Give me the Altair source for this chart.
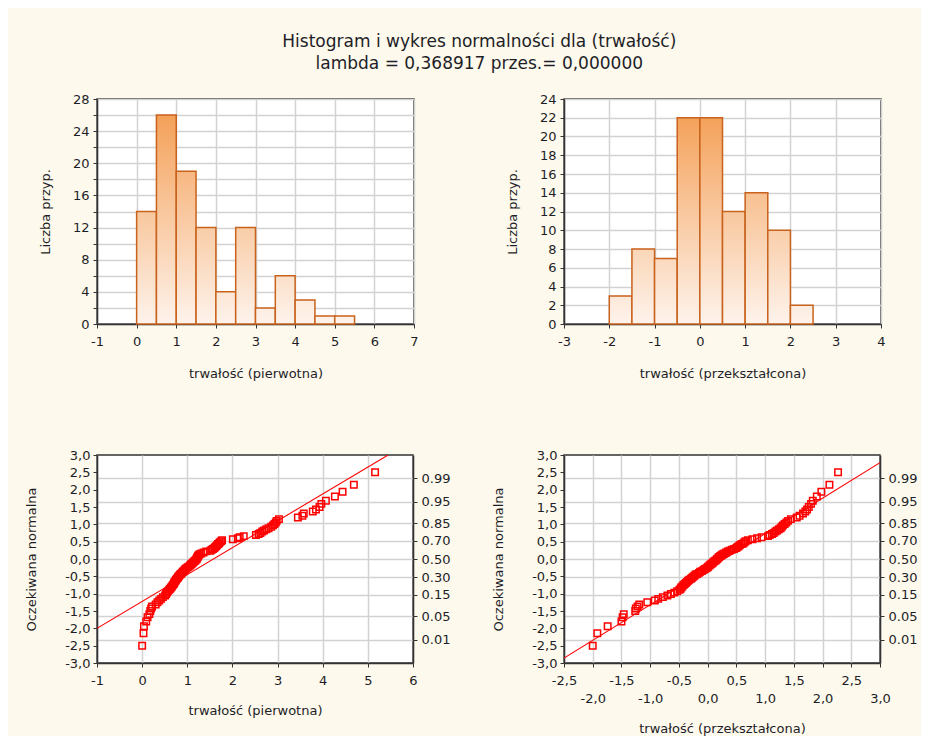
import altair as alt
import pandas as pd

# ---------------- data ----------------
bin_width = 0.5
hist1_bin_lo = [0.0, 0.5, 1.0, 1.5, 2.0, 2.5, 3.0, 3.5, 4.0, 4.5, 5.0]
hist1_counts = [14, 26, 19, 12, 4, 12, 2, 6, 3, 1, 1]
hist2_bin_lo = [-2.0, -1.5, -1.0, -0.5, 0.0, 0.5, 1.0, 1.5, 2.0]
hist2_counts = [3, 8, 7, 22, 22, 12, 14, 10, 2]

# expected normal values (y of both probability plots), rank 1..100
expected_normal = [
    -2.50, -2.14, -1.94, -1.80, -1.68, -1.59, -1.50, -1.43, -1.37, -1.31,
    -1.25, -1.20, -1.15, -1.10, -1.05, -1.01, -0.97, -0.93, -0.89, -0.86,
    -0.82, -0.79, -0.75, -0.72, -0.69, -0.66, -0.63, -0.60, -0.57, -0.54,
    -0.51, -0.48, -0.45, -0.43, -0.40, -0.37, -0.35, -0.32, -0.29, -0.27,
    -0.24, -0.22, -0.19, -0.16, -0.14, -0.11, -0.09, -0.06, -0.04, -0.01,
    0.01, 0.04, 0.06, 0.09, 0.11, 0.14, 0.16, 0.19, 0.22, 0.24,
    0.27, 0.29, 0.32, 0.35, 0.37, 0.40, 0.43, 0.45, 0.48, 0.51,
    0.54, 0.57, 0.60, 0.63, 0.66, 0.69, 0.72, 0.75, 0.79, 0.82,
    0.86, 0.89, 0.93, 0.97, 1.01, 1.05, 1.10, 1.15, 1.20, 1.25,
    1.31, 1.37, 1.43, 1.50, 1.59, 1.68, 1.80, 1.94, 2.14, 2.50,
]

# sorted original values (trwałość, pierwotna)
qq1_x = [
    0.00, 0.03, 0.04, 0.09, 0.12, 0.16, 0.18, 0.20, 0.22, 0.30,
    0.34, 0.38, 0.42, 0.46, 0.51, 0.53, 0.55, 0.57, 0.60, 0.62,
    0.64, 0.66, 0.68, 0.70, 0.71, 0.72, 0.74, 0.75, 0.77, 0.79,
    0.80, 0.82, 0.84, 0.86, 0.88, 0.90, 0.92, 0.94, 0.96, 0.98,
    1.01, 1.03, 1.06, 1.08, 1.10, 1.12, 1.14, 1.16, 1.18, 1.20,
    1.21, 1.22, 1.23, 1.24, 1.25, 1.27, 1.31, 1.36, 1.42, 1.51,
    1.54, 1.57, 1.60, 1.62, 1.64, 1.66, 1.68, 1.70, 1.72, 1.75,
    1.77, 2.01, 2.12, 2.16, 2.25, 2.52, 2.58, 2.62, 2.66, 2.70,
    2.75, 2.80, 2.86, 2.90, 2.93, 2.96, 2.98, 3.03, 3.45, 3.55,
    3.58, 3.78, 3.85, 3.93, 3.97, 4.07, 4.27, 4.44, 4.69, 5.16,
]

# sorted transformed values (trwałość, przekształcona)
qq2_x = [
    -2.00, -1.92, -1.74, -1.50, -1.48, -1.46, -1.26, -1.25, -1.22, -1.19,
    -1.05, -0.92, -0.86, -0.78, -0.70, -0.64, -0.58, -0.53, -0.49, -0.47,
    -0.46, -0.44, -0.42, -0.40, -0.38, -0.36, -0.34, -0.32, -0.29, -0.27,
    -0.25, -0.23, -0.21, -0.18, -0.15, -0.13, -0.10, -0.07, -0.05, -0.02,
    0.00, 0.01, 0.03, 0.05, 0.07, 0.09, 0.10, 0.12, 0.14, 0.16,
    0.17, 0.19, 0.20, 0.22, 0.24, 0.26, 0.29, 0.32, 0.35, 0.38,
    0.42, 0.46, 0.50, 0.52, 0.54, 0.56, 0.59, 0.62, 0.64, 0.66,
    0.70, 0.78, 0.86, 0.94, 1.05, 1.08, 1.12, 1.15, 1.18, 1.21,
    1.24, 1.27, 1.29, 1.31, 1.34, 1.37, 1.40, 1.45, 1.55, 1.60,
    1.66, 1.70, 1.73, 1.76, 1.80, 1.83, 1.90, 1.98, 2.12, 2.27,
]

# reference (fitted) lines, end points
qq1_fit_x = [-1.0, 5.45]
qq1_fit_y = [-2.0, 3.0]
qq2_fit_x = [-2.5, 3.0]
qq2_fit_y = [-2.86, 2.78]

# right-hand probability axis
prob_labels = ["0.01", "0.05", "0.15", "0.30", "0.50", "0.70", "0.85", "0.95", "0.99"]
prob_positions = [-2.326, -1.645, -1.036, -0.524, 0.0, 0.524, 1.036, 1.645, 2.326]

# axis tick values
hist1_xticks = [-1, 0, 1, 2, 3, 4, 5, 6, 7]
hist1_yticks = list(range(0, 29, 2))
hist2_xticks = [-3, -2, -1, 0, 1, 2, 3, 4]
hist2_yticks = list(range(0, 25, 2))
qq1_xticks = [-1, 0, 1, 2, 3, 4, 5, 6]
qq2_xticks = [-2.5, -2.0, -1.5, -1.0, -0.5, 0.0, 0.5, 1.0, 1.5, 2.0, 2.5, 3.0]
qq_yticks = [-3.0, -2.5, -2.0, -1.5, -1.0, -0.5, 0.0, 0.5, 1.0, 1.5, 2.0, 2.5, 3.0]

title_lines = ["Histogram i wykres normalności dla (trwałość)",
               "lambda = 0,368917 przes.= 0,000000"]

# ---------------- styling ----------------
FONT = "DejaVu Sans"
TXT = "#1e1e28"
GRID = "#d2d2d2"
BORDER = "#333333"
BG = "#fdf9ec"
RED = "#ff0000"
BAR_EDGE = "#c8621c"
BAR_LO = (254, 243, 236)
BAR_HI = (243, 155, 78)

INT_EXPR = "(datum.value < 0 ? '-' : '') + format(abs(datum.value), 'd')"
DEC_EXPR = "replace((datum.value < 0 ? '-' : '') + format(abs(datum.value), '.1f'), '.', ',')"


def hexcol(c):
    return "#%02x%02x%02x" % tuple(int(round(v)) for v in c)


def lerp(f):
    return hexcol([BAR_LO[k] + (BAR_HI[k] - BAR_LO[k]) * f for k in range(3)])


def prob_expr():
    parts = []
    for i in range(len(prob_positions) - 1):
        mid = (prob_positions[i] + prob_positions[i + 1]) / 2
        parts.append("datum.value < %.4f ? '%s' : " % (mid, prob_labels[i]))
    return "".join(parts) + "'%s'" % prob_labels[-1]


def hist_panel(lo, counts, xdom, xticks, ymax, yticks, ylabel_expr, xtitle):
    df = pd.DataFrame({"lo": lo, "hi": [v + bin_width for v in lo], "n": counts,
                       "base": [0] * len(lo)})
    xs = alt.Scale(domain=xdom, nice=False, zero=False)
    ys = alt.Scale(domain=[0, ymax], nice=False)
    xa = alt.Axis(values=xticks, labelExpr=INT_EXPR, grid=True, title=xtitle,
                  labelPadding=7, titlePadding=19)
    ya = alt.Axis(values=yticks, labelExpr=ylabel_expr, grid=True,
                  title="Liczba przyp.", labelPadding=4, titlePadding=20)
    layers = []
    for i in range(len(df)):
        grad = {
            "gradient": "linear", "x1": 0, "y1": 1, "x2": 0, "y2": 0,
            "stops": [{"offset": 0, "color": hexcol(BAR_LO)},
                      {"offset": 1, "color": lerp(counts[i] / ymax)}],
        }
        layers.append(
            alt.Chart(df.iloc[[i]]).mark_rect(fill=grad, stroke=BAR_EDGE, strokeWidth=1.5).encode(
                x=alt.X("lo:Q", scale=xs, axis=xa),
                x2="hi:Q",
                y=alt.Y("n:Q", scale=ys, axis=ya),
                y2="base:Q",
            )
        )
    return alt.layer(*layers).properties(width=317, height=225)


def qq_panel(xs_vals, xdom, xticks, xlabel_expr, fit_x, fit_y, xtitle, line_h, tpad):
    pts = pd.DataFrame({"x": xs_vals, "z": expected_normal})
    fit = pd.DataFrame({"x": fit_x, "z": fit_y})
    xs = alt.Scale(domain=xdom, nice=False, zero=False)
    ys = alt.Scale(domain=[-3, 3], nice=False, zero=False)
    xa = alt.Axis(values=xticks, labelExpr=xlabel_expr, grid=True, title=xtitle,
                  labelPadding=7, titlePadding=tpad, labelLineHeight=line_h)
    line = alt.Chart(fit).mark_line(color=RED, strokeWidth=1.1, clip=True).encode(
        x=alt.X("x:Q", scale=xs, axis=xa),
        y=alt.Y("z:Q", scale=ys, axis=alt.Axis(orient="right", values=prob_positions,
                                                labelExpr=prob_expr(), grid=True, title=None,
                                                labelPadding=4)),
    )
    points = alt.Chart(pts).mark_point(shape="square", filled=False, color=RED, size=42,
                                       strokeWidth=1.5, opacity=1).encode(
        x=alt.X("x:Q", scale=xs, axis=xa),
        y=alt.Y("z:Q", scale=ys, axis=alt.Axis(orient="left", values=qq_yticks, labelExpr=DEC_EXPR,
                                                grid=False, title="Oczekiwana normalna",
                                                labelPadding=3, titlePadding=26)),
    )
    return alt.layer(line, points).resolve_axis(y="independent").properties(width=316, height=208)


h1 = hist_panel(hist1_bin_lo, hist1_counts, [-1, 7], hist1_xticks, 28, hist1_yticks,
                "datum.value % 4 == 0 ? datum.label : ''", "trwałość (pierwotna)")
h2 = hist_panel(hist2_bin_lo, hist2_counts, [-3, 4], hist2_xticks, 24, hist2_yticks,
                "datum.label", "trwałość (przekształcona)")

q1 = qq_panel(qq1_x, [-1, 6], qq1_xticks, INT_EXPR, qq1_fit_x, qq1_fit_y,
              "trwałość (pierwotna)", 14, 17)
stagger = "datum.value % 1 == 0 ? ['', " + DEC_EXPR + "] : " + DEC_EXPR
q2 = qq_panel(qq2_x, [-2.5, 3.0], qq2_xticks, stagger, qq2_fit_x, qq2_fit_y,
              "trwałość (przekształcona)", 18, 17)

chart = (
    alt.concat(h1, h2, q1, q2, columns=2, spacing={"row": 131, "column": 150}, bounds="flush")
    .properties(
        title=alt.TitleParams(text=title_lines, fontSize=17, font=FONT, fontWeight="normal",
                              color=TXT, anchor="middle", lineHeight=22, offset=19, dx=8),
        background=BG,
        padding={"left": 16, "top": 25, "right": 3, "bottom": 0},
    )
    .configure_view(fill="white", stroke=BORDER, strokeWidth=1.5)
    .configure_axis(
        labelFont=FONT, labelFontSize=13, labelColor=TXT,
        titleFont=FONT, titleFontSize=13, titleFontWeight="normal", titleColor=TXT,
        gridColor=GRID, gridWidth=1.5, tickColor=BORDER, tickSize=4, tickWidth=1,
        domainColor=BORDER, domainWidth=1.5, labelFlush=False, labelOverlap=False,
        labelBound=False,
    )
)

chart.save("out.html", embed_options={"renderer": "svg", "actions": False})
